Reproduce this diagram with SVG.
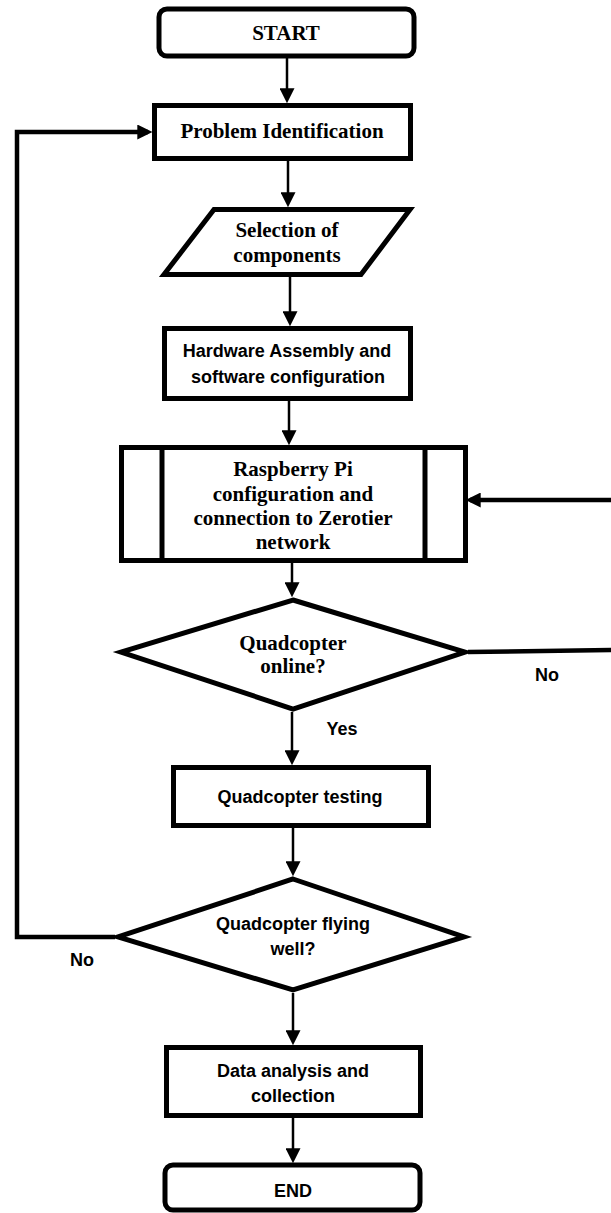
<svg xmlns="http://www.w3.org/2000/svg" width="611" height="1213" viewBox="0 0 611 1213">
<style>
.box{fill:#fff;stroke:#000;stroke-width:5}
.thin{fill:none;stroke:#000;stroke-width:2.5}
.thick{fill:none;stroke:#000;stroke-width:4.5}
.serif{font-family:"Liberation Serif","Times New Roman",serif;font-weight:bold;font-size:21px;fill:#000;text-anchor:middle}
.sans{font-family:"Liberation Sans",Arial,sans-serif;font-weight:bold;font-size:18px;fill:#000;text-anchor:middle}
</style>
<defs>
<marker id="ah" markerUnits="userSpaceOnUse" markerWidth="15" markerHeight="15" viewBox="0 0 14 14" refX="10" refY="7" orient="auto">
<path d="M0,0 L14,7 L0,14 z" fill="#000"/>
</marker>
</defs>
<g id="connectors">
<line class="thin" x1="287" y1="58" x2="287" y2="99" marker-end="url(#ah)"/>
<line class="thin" x1="288" y1="161" x2="288" y2="203" marker-end="url(#ah)"/>
<line class="thin" x1="290" y1="277" x2="290" y2="322" marker-end="url(#ah)"/>
<line class="thin" x1="289" y1="401" x2="289" y2="441" marker-end="url(#ah)"/>
<line class="thin" x1="292" y1="552" x2="292" y2="593" marker-end="url(#ah)"/>
<line class="thin" x1="292" y1="712" x2="292" y2="761" marker-end="url(#ah)"/>
<line class="thin" x1="293" y1="828" x2="293" y2="872" marker-end="url(#ah)"/>
<line class="thin" x1="293" y1="993" x2="293" y2="1041" marker-end="url(#ah)"/>
<line class="thin" x1="293" y1="1118" x2="293" y2="1159" marker-end="url(#ah)"/>
<polyline class="thick" points="468,652 613,650"/>
<line class="thick" x1="613" y1="500" x2="470" y2="500" marker-end="url(#ah)"/>
<polyline class="thick" points="115,937 17,937 17,132 148,132" marker-end="url(#ah)"/>
</g>
<g id="start">
<rect class="box" x="159" y="9" width="255" height="47" rx="8" stroke-width="4.5"/>
<text class="serif" x="286" y="40">START</text>
</g>
<g id="problem">
<rect class="box" x="154.5" y="105.5" width="256" height="53"/>
<text class="serif" x="282" y="138">Problem Identification</text>
</g>
<g id="selection">
<polygon class="box" points="214,209.5 410,209.5 361,274.5 164,274.5"/>
<text class="serif" x="287" y="237">Selection of</text>
<text class="serif" x="287" y="262">components</text>
</g>
<g id="hardware">
<rect class="box" x="164.5" y="328.5" width="246" height="70"/>
<text class="sans" x="287" y="357">Hardware Assembly and</text>
<text class="sans" x="288" y="383">software configuration</text>
</g>
<g id="raspberry">
<rect class="box" x="121.5" y="447.5" width="344" height="113"/>
<line x1="162" y1="447.5" x2="162" y2="560.5" stroke="#000" stroke-width="5"/>
<line x1="425" y1="447.5" x2="425" y2="560.5" stroke="#000" stroke-width="5"/>
<text class="serif" x="293" y="476">Raspberry Pi</text>
<text class="serif" x="293" y="501">configuration and</text>
<text class="serif" x="293" y="525">connection to Zerotier</text>
<text class="serif" x="293" y="549">network</text>
</g>
<g id="online">
<polygon class="box" points="293,600 465,652 293,709 121,652"/>
<text class="serif" x="293" y="650">Quadcopter</text>
<text class="serif" x="293" y="673">online?</text>
</g>
<g id="labels">
<text class="sans" x="547" y="681">No</text>
<text class="sans" x="342" y="735">Yes</text>
<text class="sans" x="82" y="966">No</text>
</g>
<g id="testing">
<rect class="box" x="173.5" y="767.5" width="255" height="58"/>
<text class="sans" x="300" y="803">Quadcopter testing</text>
</g>
<g id="flying">
<polygon class="box" points="293,879 464,937 293,990 118,937"/>
<text class="sans" x="293" y="930">Quadcopter flying</text>
<text class="sans" x="293" y="955">well?</text>
</g>
<g id="data">
<rect class="box" x="166.5" y="1047.5" width="254" height="68"/>
<text class="sans" x="293" y="1077">Data analysis and</text>
<text class="sans" x="293" y="1102">collection</text>
</g>
<g id="end">
<rect class="box" x="165" y="1165" width="255" height="45" rx="8" stroke-width="4.5"/>
<text class="sans" x="293" y="1197">END</text>
</g>
</svg>
